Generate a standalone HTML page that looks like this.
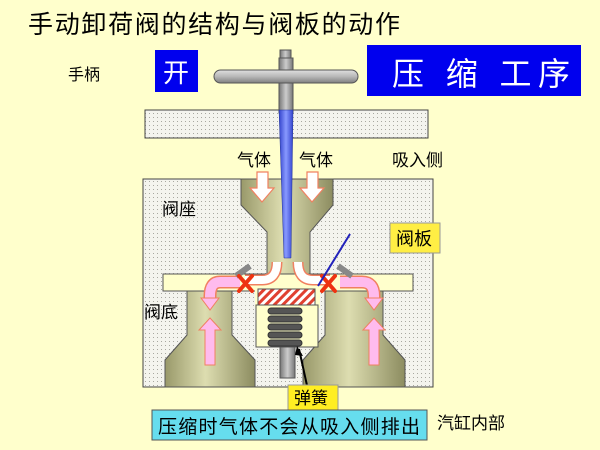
<!DOCTYPE html>
<html><head><meta charset="utf-8"><style>
html,body{margin:0;padding:0;background:#FFFFCC;}
svg{display:block;font-family:"Liberation Sans","Noto Sans CJK SC",sans-serif;}
</style></head><body>
<svg width="600" height="450" viewBox="0 0 600 450" xmlns="http://www.w3.org/2000/svg">
<defs>
<pattern id="dots" width="4" height="4" patternUnits="userSpaceOnUse">
<rect width="4" height="4" fill="#F4F4EE"/><rect x="1" y="1" width="1" height="1" fill="#A8A8A0"/>
</pattern>
<linearGradient id="cav" x1="0" x2="1" y1="0" y2="0">
<stop offset="0" stop-color="#99996A"/><stop offset="0.45" stop-color="#DDDDB0"/><stop offset="1" stop-color="#8C8C60"/>
</linearGradient>
<linearGradient id="gray" x1="0" x2="0" y1="0" y2="1">
<stop offset="0" stop-color="#E0E0E0"/><stop offset="0.5" stop-color="#B8B8B8"/><stop offset="1" stop-color="#808080"/>
</linearGradient>
<linearGradient id="grayv" x1="0" x2="1" y1="0" y2="0">
<stop offset="0" stop-color="#777"/><stop offset="0.5" stop-color="#CCC"/><stop offset="1" stop-color="#777"/>
</linearGradient>
<linearGradient id="blue" x1="0" x2="1" y1="0" y2="0">
<stop offset="0" stop-color="#3344CC"/><stop offset="0.5" stop-color="#8899FF"/><stop offset="1" stop-color="#3344CC"/>
</linearGradient>
<pattern id="hatch" width="6" height="6" patternUnits="userSpaceOnUse" patternTransform="rotate(45)">
<rect width="6" height="6" fill="#fff"/><rect width="3" height="6" fill="#E04030"/>
</pattern>
</defs>
<rect width="600" height="450" fill="#FFFFCC"/>
<text x="28" y="33" font-size="25" textLength="372" fill="#000">手动卸荷阀的结构与阀板的动作</text>
<text x="68" y="80" font-size="16">手柄</text>
<rect x="155" y="50" width="43" height="42" fill="#0000EE"/>
<text x="163" y="82" font-size="26" fill="#fff">开</text>
<rect x="367" y="45" width="214" height="51" fill="#0000EE"/>
<text x="392" y="85" font-size="32" fill="#fff" textLength="178">压 缩 工序</text>
<rect x="145" y="110" width="283" height="28" fill="url(#dots)" stroke="#444"/>
<rect x="280" y="50" width="11" height="10" fill="url(#grayv)" stroke="#555"/>
<rect x="279" y="58" width="14" height="55" fill="url(#grayv)" stroke="#555"/>
<rect x="214" y="70" width="144" height="13" rx="6.5" fill="url(#gray)" stroke="#555"/>
<rect x="143" y="179" width="290" height="208" fill="url(#dots)" stroke="#444"/>
<rect x="163" y="274" width="250" height="17" fill="#FFFFCC" stroke="#555"/>
<polygon points="241,179 333,179 333,205 310,232 310,274 267,274 267,232 241,205" fill="url(#cav)" stroke="#555"/>
<polygon points="187,291 232,291 232,335 255,360 255,387 165,387 165,360 187,335" fill="url(#cav)" stroke="#555"/>
<polygon points="325,291 383,291 383,335 405,360 405,387 303,387 303,360 325,335" fill="url(#cav)" stroke="#555"/>
<rect x="255" y="280" width="65" height="28" fill="#FFFFCC"/>
<rect x="256" y="305" width="62" height="42" fill="#FFFFCC" stroke="#555"/>
<rect x="258" y="289" width="57" height="16" fill="url(#hatch)" stroke="#555"/>
<g fill="#555" stroke="#333">
<rect x="268" y="308" width="34" height="6" rx="3"/><rect x="268" y="316" width="34" height="6" rx="3"/>
<rect x="268" y="324" width="34" height="6" rx="3"/><rect x="268" y="332" width="34" height="6" rx="3"/><rect x="268" y="340" width="34" height="6" rx="3"/>
</g>
<rect x="280" y="347" width="15" height="31" fill="url(#grayv)" stroke="#555"/>
<polygon points="279,110 293,110 291,258 284,258" fill="url(#blue)" stroke="#223399" stroke-width="0.5"/>
<g fill="#fff" stroke="#F08060" stroke-width="1.2">
<polygon points="257,172 268,172 268,188 274,188 262,202 250,188 257,188"/>
<polygon points="307,172 318,172 318,188 324,188 312,202 300,188 307,188"/>
</g>
<g fill="none" stroke="#F08060" stroke-width="11">
<path d="M277,262 Q277,280 262,280 L245,280"/>
<path d="M298,262 Q298,280 313,280 L330,280"/>
</g>
<g fill="none" stroke="#fff" stroke-width="8">
<path d="M277,262 Q277,280 262,280 L245,280"/>
<path d="M298,262 Q298,280 313,280 L330,280"/>
</g>
<g fill="none" stroke="#F08060" stroke-width="13">
<path d="M240,282 L220,282 Q210,282 210,296 L210,300"/>
<path d="M340,282 L362,282 Q374,282 374,296 L374,300"/>
</g>
<g fill="none" stroke="#FFBBEE" stroke-width="10">
<path d="M240,282 L220,282 Q210,282 210,296 L210,300"/>
<path d="M340,282 L362,282 Q374,282 374,296 L374,300"/>
</g>
<g fill="#FFBBEE" stroke="#F08060">
<polygon points="201,298 219,298 210,310"/>
<polygon points="365,298 383,298 374,310"/>
<polygon points="205,365 215,365 215,330 221,330 210,318 199,330 205,330"/>
<polygon points="369,365 379,365 379,330 385,330 374,318 363,330 369,330"/>
</g>
<g stroke="#888" stroke-width="6"><line x1="236" y1="276" x2="250" y2="266"/><line x1="338" y1="266" x2="352" y2="276"/></g>
<g stroke="#EE3311" stroke-width="4" stroke-linecap="round">
<line x1="239" y1="276" x2="252" y2="291"/><line x1="252" y1="276" x2="239" y2="291"/>
<line x1="322" y1="276" x2="335" y2="291"/><line x1="335" y1="276" x2="322" y2="291"/>
</g>
<line x1="350" y1="234" x2="318" y2="286" stroke="#2222BB" stroke-width="2"/>
<line x1="299" y1="349" x2="308" y2="390" stroke="#000" stroke-width="2"/>
<polygon points="297,346 303,356 295,355" fill="#000"/>
<text x="237" y="166" font-size="17">气体</text>
<text x="299" y="166" font-size="17">气体</text>
<text x="392" y="166" font-size="17">吸入侧</text>
<text x="162" y="215" font-size="17">阀座</text>
<text x="144" y="318" font-size="17">阀底</text>
<rect x="390" y="223" width="50" height="30" fill="#FFEE44" stroke="#999"/>
<text x="396" y="245" font-size="18">阀板</text>
<rect x="288" y="385" width="50" height="25" fill="#FFEE22" stroke="#999"/>
<text x="294" y="404" font-size="17">弹簧</text>
<rect x="152" y="410" width="275" height="30" fill="#66DDEE" stroke="#555"/>
<text x="158" y="433" font-size="19" textLength="262">压缩时气体不会从吸入侧排出</text>
<text x="437" y="429" font-size="17">汽缸内部</text>
</svg>
</body></html>
